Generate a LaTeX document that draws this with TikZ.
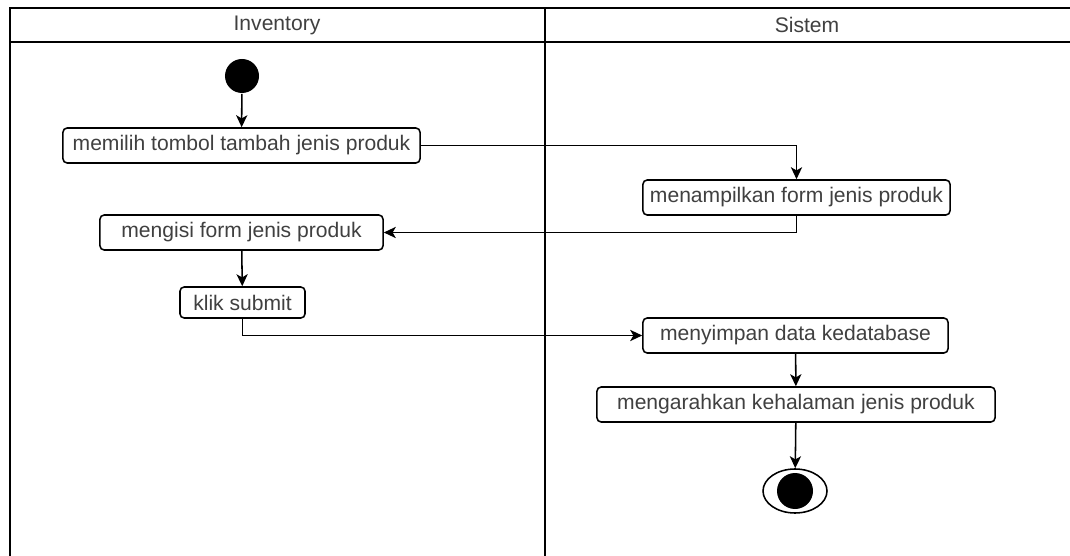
\documentclass[tikz,border=0pt]{standalone}
\usepackage{fontspec}
\setmainfont{Liberation Sans}
\usetikzlibrary{arrows.meta,shapes.geometric}

\begin{document}
\begin{tikzpicture}[x=0.025cm,y=-0.025cm,>={Stealth[length=3mm,width=2.8mm,inset=0.8mm]},
  font=\fontsize{15}{18}\selectfont,line width=1.1pt,
  act/.style={draw,rounded corners=3pt,minimum height=0.875cm,inner sep=1pt,text=black!75},
  lane/.style={line width=1.2pt},
  lanetitle/.style={text=black!75}]
\useasboundingbox (0,0) rectangle (1070,556);
% swimlanes
\draw[lane] (1070,8) -- (10,8) -- (10,556);
\draw[lane] (10,42) -- (1070,42);
\draw[lane] (545,8) -- (545,556);
\node[lanetitle] (inv) at (277,25) {Inventory};
\node[lanetitle] (sis) at (807,25) {Sistem};
% activities
\node[circle,fill=black,minimum size=0.85cm,inner sep=0pt] (start) at (242,76) {};
\node[act,minimum width=8.925cm] (pilih) at (241.5,145.5) {memilih tombol tambah jenis produk};
\node[act,minimum width=7.675cm] (tampil) at (796.5,197.5) {menampilkan form jenis produk};
\node[act,minimum width=7.075cm] (isi) at (241.5,232.5) {mengisi form jenis produk};
\node[act,minimum width=3.125cm,minimum height=0.775cm] (submit) at (242.5,302.5) {klik submit};
\node[act,minimum width=7.625cm] (simpan) at (795.5,335.5) {menyimpan data kedatabase};
\node[act,minimum width=9.95cm] (arah) at (796,404.5) {mengarahkan kehalaman jenis produk};
\node[ellipse,draw,minimum width=1.6cm,minimum height=1.1cm,inner sep=0pt] (end) at (795,491) {};
\fill (end.center) circle (18);
% flows
\draw[->] (start) -- (pilih);
\draw[->] (pilih.east) -| (tampil.north);
\draw[->] (tampil.south) |- (isi.east);
\draw[->] (isi) -- (submit);
\draw[->] (submit.south) |- (simpan.west);
\draw[->] (simpan) -- (arah);
\draw[->] (arah) -- (end);
\end{tikzpicture}
\end{document}
